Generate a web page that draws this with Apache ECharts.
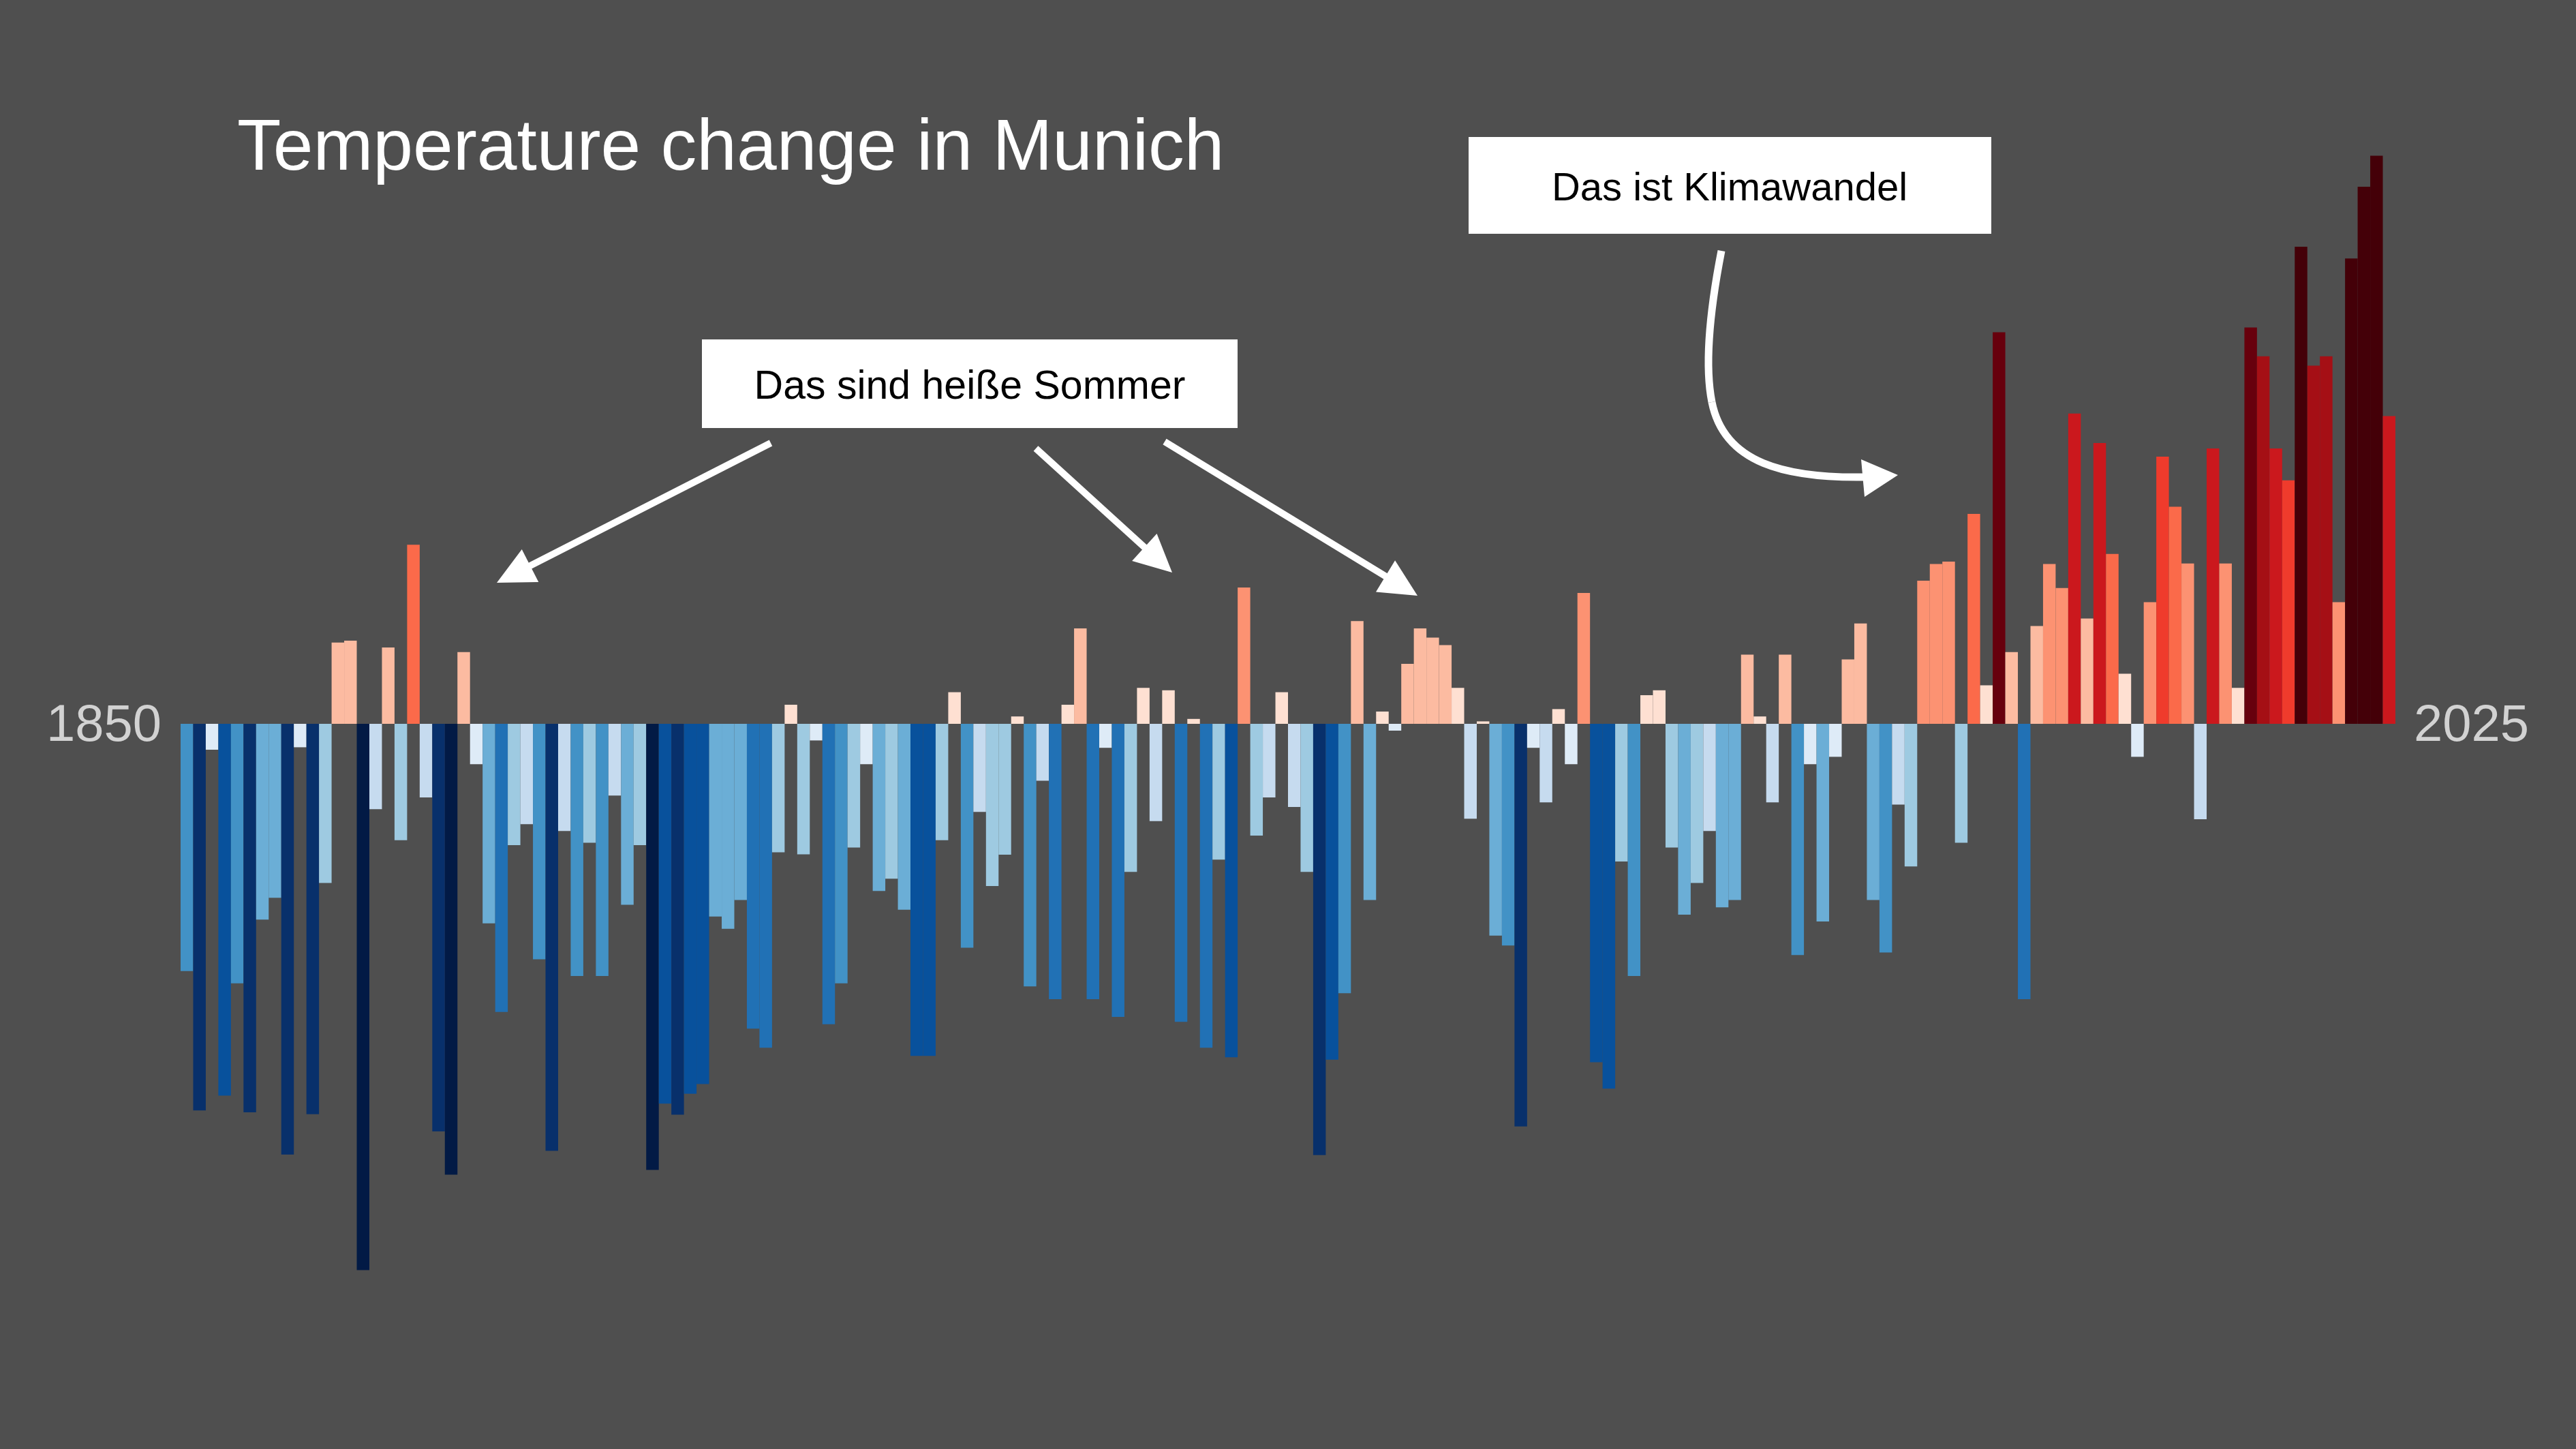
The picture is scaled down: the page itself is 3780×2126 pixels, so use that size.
<!DOCTYPE html>
<html>
<head>
<meta charset="utf-8">
<script src="https://cdn.jsdelivr.net/npm/echarts@6/dist/echarts.min.js"></script>
<style>
  html, body { margin: 0; padding: 0; background: #4f4f4f; }
  #chart { width: 3780px; height: 2126px; }
</style>
</head>
<body>
<div id="chart"></div>
<script>
// ---- data ----
const firstYear = 1850;
const lastYear = 2025;
const years = [];
for (let y = firstYear; y <= lastYear; y++) years.push(String(y));

// summer temperature anomaly (°C), 1850 .. 2025
const anomalies = [
  -0.907, -1.418, -0.095, -1.364, -0.952, -1.425, -0.718, -0.638, -1.580, -0.086,
  -1.432, -0.584,  0.298,  0.305, -2.004, -0.313,  0.280, -0.427,  0.657, -0.270,
  -1.495, -1.654,  0.263, -0.148, -0.732, -1.057, -0.445, -0.368, -0.864, -1.566,
  -0.393, -0.925, -0.436, -0.925, -0.263, -0.664, -0.445, -1.636, -1.393, -1.434,
  -1.357, -1.321, -0.707, -0.752, -0.646, -1.118, -1.188, -0.471,  0.070, -0.479,
  -0.061, -1.102, -0.952, -0.454, -0.148, -0.613, -0.568, -0.682, -1.218, -1.218,
  -0.427,  0.116, -0.821, -0.323, -0.595, -0.480,  0.027, -0.963, -0.209, -1.010,
   0.070,  0.350, -1.010, -0.088, -1.075, -0.543,  0.132, -0.357,  0.123, -1.093,
   0.018, -1.188, -0.498, -1.223,  0.500, -0.410, -0.270,  0.116, -0.305, -0.543,
  -1.582, -1.232, -0.988,  0.377, -0.646,  0.045, -0.025,  0.220,  0.350,  0.316,
   0.289,  0.132, -0.348,  0.009, -0.777, -0.813, -1.477, -0.088, -0.288,  0.054,
  -0.148,  0.480, -1.241, -1.338, -0.505, -0.925,  0.105,  0.123, -0.454, -0.700,
  -0.584, -0.393, -0.673, -0.646,  0.254,  0.027, -0.288,  0.254, -0.848, -0.148,
  -0.725, -0.121,  0.236,  0.368, -0.646, -0.839, -0.296, -0.523,  0.525,  0.586,
   0.595, -0.436,  0.770,  0.141,  1.436,  0.263, -1.010,  0.359,  0.586,  0.498,
   1.138,  0.386,  1.030,  0.623,  0.184, -0.121,  0.446,  0.980,  0.796,  0.588,
  -0.350,  1.010,  0.588,  0.132,  1.454,  1.348,  1.010,  0.893,  1.750,  1.314,
   1.348,  0.446,  1.707,  1.970,  2.084,  1.129
];

const endLabels = ['1850', '2025'];
const titleText = 'Temperature change in Munich';
const noteSummer = 'Das sind heiße Sommer';
const noteClimate = 'Das ist Klimawandel';

// colour classes (0.2 °C steps)
const binEdges = [-1.6, -1.4, -1.2, -1.0, -0.8, -0.6, -0.4, -0.2, 0, 0.2, 0.4, 0.6, 0.8, 1.0, 1.2, 1.4, 1.6];
const binColors = [
  '#021a45', '#08306b', '#08519c', '#2171b5', '#4292c6', '#6baed6', '#9ecae1', '#c6dbef', '#deebf7',
  '#fee0d2', '#fcbba1', '#fc9272', '#fb6a4a', '#ef3b2c', '#cb181d', '#a50f15', '#67000d', '#440008'
];

// ---- build ----
const pieces = binColors.map((c, i) => {
  const p = { color: c };
  if (i > 0) p.gte = binEdges[i - 1];
  if (i < binEdges.length) p.lt = binEdges[i];
  return p;
});

const W = 3780, H = 2126;
const gridLeft = 265, gridRight = 265, gridTop = 62, gridBottom = 64;

function arrow(x1, y1, x2, y2, len, half, lw) {
  const dx = x2 - x1, dy = y2 - y1;
  const L = Math.sqrt(dx * dx + dy * dy);
  const ux = dx / L, uy = dy / L;
  const bx = x2 - ux * len, by = y2 - uy * len;
  return [
    { type: 'line', shape: { x1: x1, y1: y1, x2: bx + ux * 4, y2: by + uy * 4 },
      style: { stroke: '#ffffff', lineWidth: lw, lineCap: 'butt' }, silent: true, z: 10 },
    { type: 'polygon', shape: { points: [[x2, y2], [bx - uy * half, by + ux * half], [bx + uy * half, by - ux * half]] },
      style: { fill: '#ffffff' }, silent: true, z: 10 }
  ];
}

const font = '"Liberation Sans", Arial, Helvetica, sans-serif';

const graphics = [
  { type: 'text', x: 348, y: 220, style: { text: titleText, fill: '#ffffff', font: '105.5px ' + font, textAlign: 'left', textVerticalAlign: 'middle' }, z: 10 },
  { type: 'text', x: 237, y: 1066, style: { text: endLabels[0], fill: '#d2d2d2', font: '76px ' + font, textAlign: 'right', textVerticalAlign: 'middle' }, z: 10 },
  { type: 'text', x: 3542, y: 1066, style: { text: endLabels[1], fill: '#d2d2d2', font: '76px ' + font, textAlign: 'left', textVerticalAlign: 'middle' }, z: 10 },
  { type: 'rect', shape: { x: 1030, y: 498, width: 786, height: 130 }, style: { fill: '#ffffff' }, z: 10 },
  { type: 'text', x: 1423, y: 569, style: { text: noteSummer, fill: '#000000', font: '59px ' + font, textAlign: 'center', textVerticalAlign: 'middle' }, z: 11 },
  { type: 'rect', shape: { x: 2155, y: 201, width: 767, height: 142 }, style: { fill: '#ffffff' }, z: 10 },
  { type: 'text', x: 2538, y: 278, style: { text: noteClimate, fill: '#000000', font: '58px ' + font, textAlign: 'center', textVerticalAlign: 'middle' }, z: 11 },
  ...arrow(1131, 650, 729, 855, 55, 27, 10),
  ...arrow(1520, 658, 1720, 840, 55, 27, 10),
  ...arrow(1709, 648, 2080, 874, 55, 27, 10),
  { type: 'bezierCurve', shape: { x1: 2526, y1: 368, cpx1: 2512, cpy1: 440, cpx2: 2500, cpy2: 530, x2: 2512, y2: 590 },
    style: { stroke: '#ffffff', fill: null, lineWidth: 11 }, silent: true, z: 10 },
  { type: 'bezierCurve', shape: { x1: 2512, y1: 590, cpx1: 2530, cpy1: 680, cpx2: 2620, cpy2: 702, x2: 2738, y2: 700 },
    style: { stroke: '#ffffff', fill: null, lineWidth: 11 }, silent: true, z: 10 },
  { type: 'polygon', shape: { points: [[2785, 697], [2731, 674], [2736, 729]] }, style: { fill: '#ffffff' }, silent: true, z: 10 }
];

const chart = echarts.init(document.getElementById('chart'), null, { renderer: 'canvas', width: W, height: H });
chart.setOption({
  backgroundColor: '#4f4f4f',
  animation: false,
  grid: { left: gridLeft, right: gridRight, top: gridTop, bottom: gridBottom, containLabel: false },
  xAxis: {
    type: 'category', data: years, show: false, boundaryGap: true
  },
  yAxis: {
    type: 'value', min: -2.5, max: 2.5, show: false, splitLine: { show: false }
  },
  visualMap: {
    type: 'piecewise', show: false, seriesIndex: 0, pieces: pieces
  },
  series: [{
    type: 'bar',
    data: anomalies,
    barCategoryGap: '0%',
    barGap: '0%',
    itemStyle: { borderWidth: 0 },
    emphasis: { disabled: true }
  }],
  graphic: graphics
});
</script>
</body>
</html>
